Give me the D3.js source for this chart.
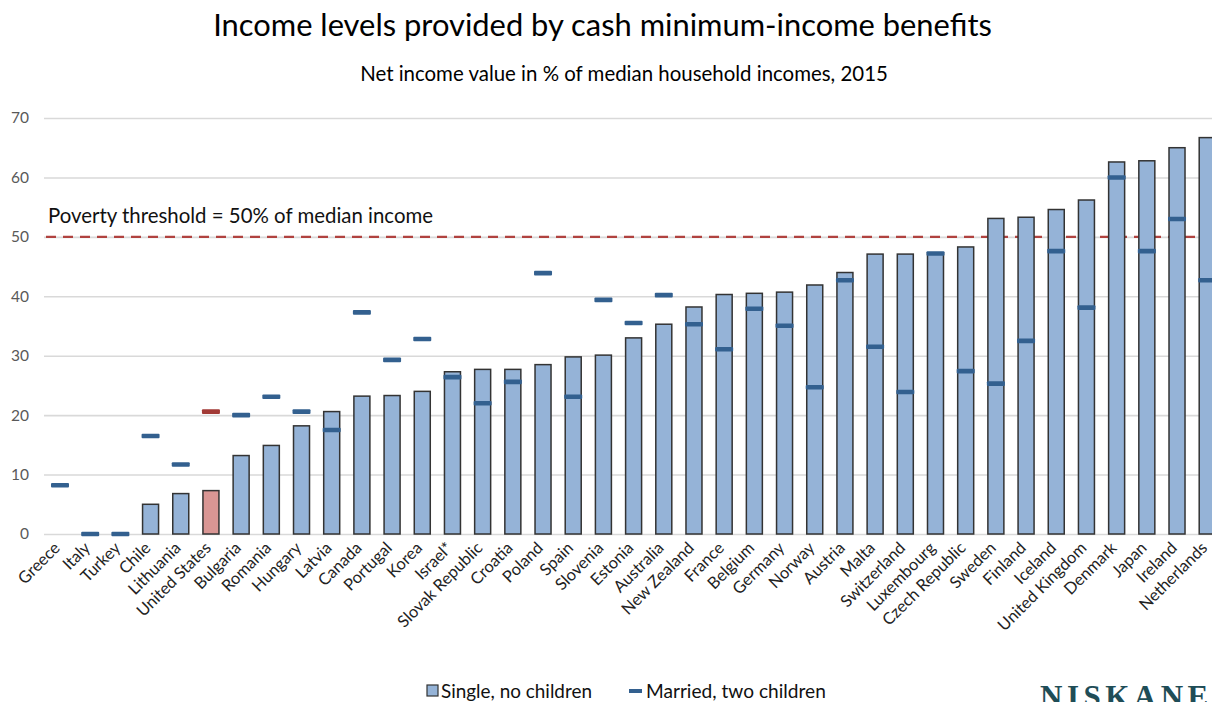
<!DOCTYPE html>
<html>
<head>
<meta charset="utf-8">
<script src="https://cdnjs.cloudflare.com/ajax/libs/d3/7.8.5/d3.min.js"></script>
<style>
  html, body { margin: 0; padding: 0; background: #fff; }
  svg { display: block; }
  text { font-family: Lato, "Open Sans", sans-serif; }
</style>
</head>
<body>
<svg id="chart" width="1212" height="702"></svg>
<script>
// ---- data ----
const countries = ["Greece","Italy","Turkey","Chile","Lithuania","United States","Bulgaria","Romania","Hungary","Latvia","Canada","Portugal","Korea","Israel*","Slovak Republic","Croatia","Poland","Spain","Slovenia","Estonia","Australia","New Zealand","France","Belgium","Germany","Norway","Austria","Malta","Switzerland","Luxembourg","Czech Republic","Sweden","Finland","Iceland","United Kingdom","Denmark","Japan","Ireland","Netherlands"];
const singleNoChildren = [0,0,0,5.0,6.8,7.3,13.2,14.9,18.2,20.6,23.2,23.3,24.0,27.3,27.7,27.7,28.5,29.8,30.1,33.0,35.3,38.2,40.3,40.5,40.7,41.9,44.0,47.1,47.1,47.3,48.3,53.1,53.3,54.6,56.2,62.6,62.8,65.0,66.7];
const marriedTwoChildren = [8.2,0,0,16.5,11.7,20.6,20.0,23.1,20.6,17.5,37.3,29.3,32.8,26.4,22.0,25.6,43.9,23.1,39.4,35.5,40.2,35.3,31.1,37.9,35.05,24.7,42.7,31.5,23.9,47.2,27.4,25.3,32.5,47.6,38.1,60.0,47.6,53.0,42.7];
const yTicks = [0,10,20,30,40,50,60,70];
const povertyThreshold = 50;
const highlight = "United States";
const titleText = "Income levels provided by cash minimum-income benefits";
const subtitleText = "Net income value in % of median household incomes, 2015";
const povertyLabel = "Poverty threshold = 50% of median income";
const legendLabels = ["Single, no children", "Married, two children"];
const logoText = "NISKANEN";

// ---- styles ----
const barFill = "#95b3d7", barFillHi = "#d99694", barStroke = "#333333";
const markFill = "#33608f", markFillHi = "#a23a36";
const gridColor = "#d9d9d9", tickColor = "#595959";

const svg = d3.select("#chart");

function fitText(sel, target) {
  const n = sel.node();
  const fs = parseFloat(sel.attr("font-size"));
  const w = n.getComputedTextLength();
  sel.attr("font-size", (fs * target / w).toFixed(2));
}

const x = d3.scaleBand().domain(countries).range([44.9, 1222.3]).paddingInner(0.47).paddingOuter(0.235);
const y = d3.scaleLinear().domain([0, 70]).range([534, 118]);

// gridlines + y labels via axis
const yAxis = svg.append("g").attr("transform", "translate(44,0)")
  .call(d3.axisLeft(y).tickValues(yTicks).tickSize(-1200).tickPadding(15));
yAxis.select(".domain").remove();
yAxis.selectAll(".tick line").attr("stroke", gridColor).attr("stroke-width", 1.6);
yAxis.selectAll(".tick text").attr("fill", tickColor).attr("font-size", 15.5);

// poverty line
svg.append("line")
  .attr("x1", 46).attr("x2", 1206)
  .attr("y1", y(povertyThreshold)).attr("y2", y(povertyThreshold))
  .attr("stroke", "#b0423f").attr("stroke-width", 2.2).attr("stroke-dasharray", "10,7");

const pl = svg.append("text").attr("x", 48).attr("y", 223).attr("font-size", 19)
  .attr("fill", "#111").text(povertyLabel);
fitText(pl, 385);

// bars
const data = countries.map((c, i) => ({c, s: singleNoChildren[i], m: marriedTwoChildren[i]}));
svg.append("g").selectAll("rect").data(data.filter(d => d.s > 0)).join("rect")
  .attr("x", d => x(d.c)).attr("width", x.bandwidth())
  .attr("y", d => y(d.s)).attr("height", d => y(0) - y(d.s))
  .attr("fill", d => d.c === highlight ? barFillHi : barFill)
  .attr("stroke", barStroke).attr("stroke-width", 1.5);

// markers
const mw = x.bandwidth() + 2, mh = 4.6;
svg.append("g").selectAll("rect").data(data).join("rect")
  .attr("x", d => x(d.c) + x.bandwidth()/2 - mw/2).attr("width", mw)
  .attr("y", d => y(d.m) - mh/2).attr("height", mh).attr("rx", 1)
  .attr("fill", d => d.c === highlight ? markFillHi : markFill);

// x labels
const xl = svg.append("g").selectAll("text").data(countries).join("text")
  .attr("transform", d => `translate(${x(d) + x.bandwidth()/2 + 1},${549}) rotate(-45)`)
  .attr("text-anchor", "end").attr("font-size", 14).attr("fill", "#222")
  .text(d => d);
const us = xl.filter(d => d === "United States");
const w0 = us.node().getComputedTextLength();
xl.attr("font-size", (14 * 97 / w0).toFixed(2));

// title & subtitle
const t = svg.append("text").attr("x", 602.5).attr("y", 36).attr("text-anchor", "middle")
  .attr("font-size", 28).attr("fill", "#000").text(titleText);
fitText(t, 779);
const st = svg.append("text").attr("x", 624).attr("y", 81).attr("text-anchor", "middle")
  .attr("font-size", 18).attr("fill", "#000").text(subtitleText);
fitText(st, 528);

// legend
const lg = svg.append("g");
lg.append("rect").attr("x", 427).attr("y", 685).attr("width", 11).attr("height", 11)
  .attr("fill", barFill).attr("stroke", barStroke).attr("stroke-width", 1.2);
const l1 = lg.append("text").attr("x", 441).attr("y", 698).attr("font-size", 17).attr("fill", "#111").text(legendLabels[0]);
fitText(l1, 151);
lg.append("rect").attr("x", 629).attr("y", 689).attr("width", 13).attr("height", 4).attr("fill", markFill);
const l2 = lg.append("text").attr("x", 646).attr("y", 698).attr("font-size", 17).attr("fill", "#111").text(legendLabels[1]);
fitText(l2, 180);

// logo (cropped by the picture edge, as in the reference)
svg.append("text").attr("x", 1040).attr("y", 707)
  .style("font-family", "'Liberation Serif', 'DejaVu Serif', serif").style("font-weight", "bold")
  .attr("font-size", 31).attr("letter-spacing", 4.5).attr("fill", "#1f4d57").text(logoText);
</script>
</body>
</html>
